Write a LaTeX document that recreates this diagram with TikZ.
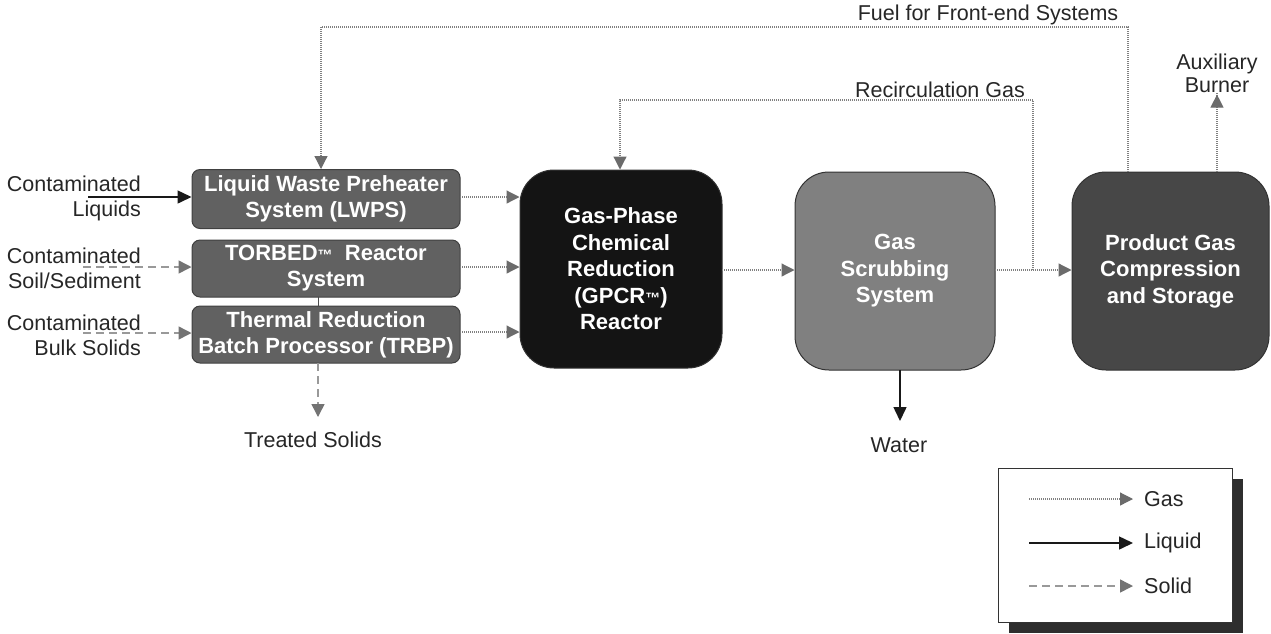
\documentclass[tikz,border=0pt]{standalone}
\usepackage{fontspec}
\setmainfont{Liberation Sans}
\usetikzlibrary{arrows.meta,calc}
\newcommand{\smtm}{{\fontsize{15}{15}\selectfont ™}}
\begin{document}
\begin{tikzpicture}[x=1pt,y=-1pt,
  lbl/.style={font=\fontsize{21.5}{25}\selectfont, inner sep=0pt, align=center, text=black!85},
  smallbox/.style={draw=black!75, line width=1pt, fill=black!62, rounded corners=8pt, minimum width=268pt, inner sep=0pt, align=center, text=white, font=\bfseries\fontsize{22}{26}\selectfont},
  bigbox/.style={draw=black!80, line width=1pt, rounded corners=34pt, minimum width=200pt, minimum height=198pt, inner sep=0pt, align=center, text=white, font=\bfseries\fontsize{22}{26.5}\selectfont},
  gas/.style={draw=black!50, line width=1.2pt, dash pattern=on 1pt off 1pt, -{Triangle[length=13pt,width=13pt,fill=black!58,color=black!58]}},
  liquid/.style={draw=black!90, line width=1.5pt, -{Triangle[length=14pt,width=13pt]}},
  solidflow/.style={draw=black!40, line width=1.5pt, dash pattern=on 8pt off 5pt, -{Triangle[length=13pt,width=13pt,fill=black!55,color=black!55]}}
]
\useasboundingbox (0,0) rectangle (1271,633);

% process boxes
\node[smallbox, minimum height=59pt] (lwps) at (326,199) {Liquid Waste Preheater\\System (LWPS)};
\node[smallbox, minimum height=57pt] (torbed) at (326,268.5) {TORBED\smtm\ \ Reactor\\System};
\node[smallbox, minimum height=57pt] (trbp) at (326,334.5) {Thermal Reduction\\Batch Processor (TRBP)};
\node[bigbox, fill=black!92, minimum width=202pt] (gpcr) at (621,269) {Gas-Phase\\Chemical\\Reduction\\(GPCR\smtm)\\Reactor};
\node[bigbox, fill=black!50] (scrub) at (895,271) {Gas\\Scrubbing\\System};
\node[bigbox, fill=black!72, minimum width=197pt] (prod) at (1170.5,271) {Product Gas\\Compression\\and Storage};

% left labels
\node[lbl, align=right, anchor=east] (lliq) at (141,198) {Contaminated\\Liquids};
\node[lbl, align=right, anchor=east] (lsoil) at (141,268) {Contaminated\\Soil/Sediment};
\node[lbl, align=right, anchor=east] (lbulk) at (141,335) {Contaminated\\Bulk Solids};
\coordinate (sliq) at (88,197);
\coordinate (ssoil) at (83,267);
\coordinate (sbulk) at (83,333);
\draw[liquid] (sliq) -- (sliq -| lwps.west);
\draw[solidflow] (ssoil) -- (ssoil -| torbed.west);
\draw[solidflow] (sbulk) -- (sbulk -| trbp.west);

% gas into GPCR
\coordinate (g1) at (460,197);
\coordinate (g2) at (460,267);
\coordinate (g3) at (460,332);
\draw[gas] (g1) -- (g1 -| gpcr.west);
\draw[gas] (g2) -- (g2 -| gpcr.west);
\draw[gas] (g3) -- (g3 -| gpcr.west);

% main line
\coordinate (m1) at (722,270);
\draw[gas] (m1) -- (m1 -| scrub.west);
\coordinate (m2) at (995,270);
\draw[gas] (m2) -- (m2 -| prod.west);

% link between torbed and trbp
\coordinate (tl) at (318,297);
\draw[black!70, line width=1pt] (tl) -- (tl |- trbp.north);

% recirculation
\coordinate (rc) at (1033,270);
\coordinate (rctop) at (1033,100);
\coordinate (rcleft) at (620,100);
\draw[gas] (rc) -- (rctop) -- (rcleft) -- (rcleft |- gpcr.north);
\node[lbl] (rclab) at (940,90) {Recirculation Gas};

% fuel
\coordinate (fu) at (1128,172);
\coordinate (futop) at (1128,27);
\coordinate (fuleft) at (321,27);
\draw[gas] (fu) -- (futop) -- (fuleft) -- (fuleft |- lwps.north);
\node[lbl] (fulab) at (988,15) {Fuel for Front-end Systems};

% auxiliary burner
\node[lbl, font=\fontsize{21.5}{23}\selectfont] (aux) at (1217,73) {Auxiliary\\Burner};
\coordinate (au) at (1217,172);
\draw[gas] (au) -- (au |- aux.south) ++(0,2);

% treated solids
\node[lbl] (ts) at (313,440) {Treated Solids};
\coordinate (tsb) at (318,363);
\draw[solidflow] (tsb) -- (318,417);

% water
\node[lbl] (water) at (899,445) {Water};
\coordinate (wt) at (900,370);
\draw[liquid] (wt) -- (900,421);

% legend
\fill[black!82] (1009,479) rectangle (1243,633);
\node[draw=black!80, line width=1pt, fill=white, minimum width=234pt, minimum height=154pt, inner sep=0pt] (legend) at (1115,545) {};
\coordinate (la) at (1029,499);
\coordinate (lb) at (1029,543);
\coordinate (lc) at (1029,586);
\node[lbl, anchor=west] (lga) at (1144,499) {Gas};
\node[lbl, anchor=west] (lgb) at (1144,543) {Liquid};
\node[lbl, anchor=west] (lgc) at (1144,586) {Solid};
\draw[gas] (la) -- ($(lga.west)+(-11,0)$);
\draw[liquid] (lb) -- ($(lgb.west)+(-11,0)$);
\draw[solidflow] (lc) -- ($(lgc.west)+(-11,0)$);
\end{tikzpicture}
\end{document}
